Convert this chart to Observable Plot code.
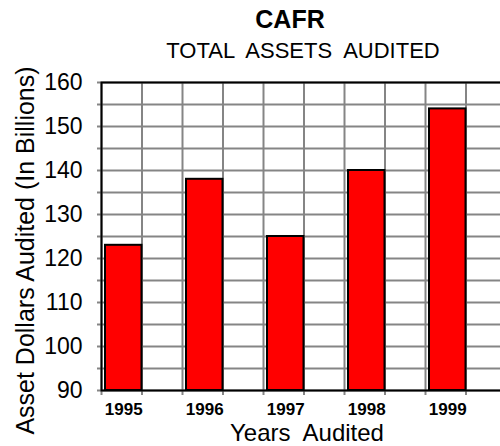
<!DOCTYPE html>
<html>
<head>
<meta charset="utf-8">
<script src="https://cdn.jsdelivr.net/npm/d3@7"></script>
<script src="https://cdn.jsdelivr.net/npm/@observablehq/plot@0.6"></script>
<style>
  html, body { margin: 0; padding: 0; background: #fff; overflow: hidden; width: 500px; height: 446px; }
  #wrap { position: relative; width: 500px; height: 446px; font-family: "Liberation Sans", Arial, sans-serif; }
  #title { position: absolute; left: 0; top: 7px; width: 580px; text-align: center; font-size: 25px; line-height: 25px; font-weight: bold; color: #000; white-space: pre; }
  #subtitle { position: absolute; left: 0; top: 40px; width: 606px; text-align: center; font-size: 22px; line-height: 22px; color: #000; white-space: pre; }
  #chart { position: absolute; left: 0; top: 60px; }
</style>
</head>
<body>
<div id="wrap">
  <div id="title">CAFR</div>
  <div id="subtitle">TOTAL  ASSETS  AUDITED</div>
  <div id="chart"></div>
</div>
<script>
const years = [1995, 1996, 1997, 1998, 1999];
const assets = [123, 138, 125, 140, 154];
const yDomain = [90, 160];
const yTickLabels = [90, 100, 110, 120, 130, 140, 150, 160];
const yMinorTicks = [95, 105, 115, 125, 135, 145, 155];
const yTitle = "Asset Dollars Audited (In Billions)";
const xTitle = "Years  Audited";

const data = years.map((year, i) => ({year, value: assets[i]}));
const yGrid = yTickLabels.concat(yMinorTicks);
const xGrid = years.flatMap(y => [y - 0.5, y]).concat([years[years.length - 1] + 0.5]);

const chart = Plot.plot({
  width: 500,
  height: 386,
  marginTop: 22,
  marginBottom: 56,
  marginLeft: 101,
  marginRight: -6,
  style: {fontFamily: "'Liberation Sans', Arial, sans-serif", background: "white", color: "black", overflow: "hidden"},
  x: {domain: [years[0] - 0.5, years[years.length - 1] + 0.5], axis: null},
  y: {domain: yDomain, axis: null},
  marks: [
    Plot.gridY(yGrid, {stroke: "#858585", strokeOpacity: 1, strokeWidth: 2}),
    Plot.gridX(xGrid, {stroke: "#858585", strokeOpacity: 1, strokeWidth: 2}),
    Plot.axisY(yGrid, {tickSize: 4, tickFormat: () => "", stroke: "#858585", strokeWidth: 2, label: null}),
    Plot.axisX(xGrid, {tickSize: 5, tickFormat: () => "", stroke: "#858585", strokeWidth: 2, label: null}),
    Plot.rectY(data, {
      x1: d => d.year - 0.5,
      x2: d => d.year,
      y1: () => yDomain[0],
      y2: "value",
      insetLeft: 4,
      fill: "#ff0000",
      stroke: "black",
      strokeWidth: 2
    }),
    Plot.frame({stroke: "black", strokeWidth: 2}),
    Plot.axisY(yTickLabels, {tickSize: 0, tickPadding: 19, fontSize: 23, label: null}),
    Plot.text(data, {
      x: d => d.year - 0.25,
      y: () => yDomain[0],
      text: d => String(d.year),
      dx: 2,
      dy: 19,
      fontSize: 17,
      fontWeight: "bold",
      lineAnchor: "middle",
      fill: "black"
    }),
    Plot.text([xTitle], {
      frameAnchor: "bottom",
      textAnchor: "middle",
      dx: 3,
      dy: 43,
      fontSize: 24,
      lineAnchor: "middle",
      fill: "black"
    }),
    Plot.text([yTitle], {
      frameAnchor: "left",
      textAnchor: "middle",
      rotate: -90,
      dx: -76,
      dy: 14,
      fontSize: 25,
      lineAnchor: "middle",
      fill: "black"
    })
  ]
});
chart.querySelectorAll("text").forEach(t => t.style.whiteSpace = "pre");
document.getElementById("chart").appendChild(chart);
</script>
</body>
</html>
